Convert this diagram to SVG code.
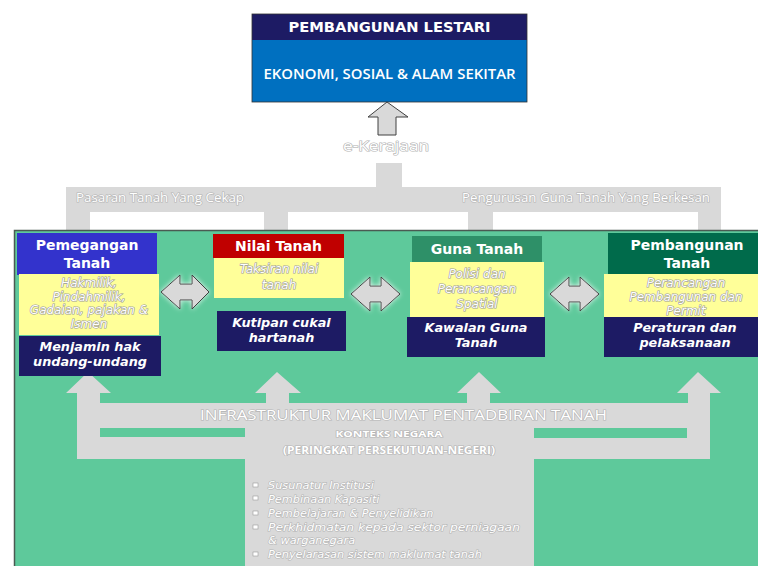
<svg xmlns="http://www.w3.org/2000/svg" width="758" height="566" viewBox="0 0 758 566">
<defs>
<style>
.t{font-family:"Open Sans","Liberation Sans",sans-serif;}
.hd{font-family:"DejaVu Sans","Liberation Sans",sans-serif;font-weight:bold;font-size:14px;fill:#fff;text-anchor:middle;}
.yl{font-family:"DejaVu Sans","Liberation Sans",sans-serif;font-style:italic;font-size:12px;fill:#fff;stroke:#9a9a9a;stroke-width:1.2px;paint-order:stroke;text-anchor:middle;}
.dk{font-family:"DejaVu Sans","Liberation Sans",sans-serif;font-style:italic;font-weight:bold;font-size:12.8px;fill:#fff;text-anchor:middle;}
.ol{fill:#fff;stroke:#b4b4b4;stroke-width:1.2px;paint-order:stroke;}
.gr{fill:#d9d9d9;}
.dbl{fill:#d9d9d9;stroke:#404040;stroke-width:1;filter:url(#glow);}
.bl{font-family:"DejaVu Sans","Liberation Sans",sans-serif;font-style:italic;font-size:11.3px;fill:#fff;stroke:#b4b4b4;stroke-width:1.2px;paint-order:stroke;}
</style>
<filter id="glow" x="-30%" y="-40%" width="160%" height="180%">
<feGaussianBlur in="SourceAlpha" stdDeviation="2.5" result="b"/>
<feFlood flood-color="#ffffff" flood-opacity="0.8"/>
<feComposite in2="b" operator="in" result="g"/>
<feMerge><feMergeNode in="g"/><feMergeNode in="SourceGraphic"/></feMerge>
</filter>
</defs>
<rect width="758" height="566" fill="#fff"/>

<!-- top node -->
<g id="pembangunan-lestari">
<rect x="252" y="14" width="275" height="26" fill="#1d1b64"/>
<rect x="252" y="40" width="275" height="62" fill="#0070c0"/>
<rect x="252" y="14" width="275" height="88" fill="none" stroke="#333" stroke-width="0.8"/>
<text x="389.5" y="31.5" font-family="DejaVu Sans, Liberation Sans, sans-serif" font-size="14" font-weight="bold" fill="#fff" text-anchor="middle" textLength="202" lengthAdjust="spacingAndGlyphs">PEMBANGUNAN LESTARI</text>
<text class="t" x="389.5" y="79" font-size="14.5" font-weight="600" fill="#fff" text-anchor="middle" textLength="252" lengthAdjust="spacingAndGlyphs">EKONOMI, SOSIAL &amp; ALAM SEKITAR</text>
</g>

<!-- connectors -->
<g id="connectors">
<path d="M387,102 L408,117 L396,117 L396,135 L378,135 L378,117 L368,117 Z" fill="#d9d9d9" stroke="#404040" stroke-width="1"/>
<text class="t ol" x="386" y="151" font-size="14" text-anchor="middle" textLength="86" lengthAdjust="spacingAndGlyphs">e-Kerajaan</text>
<rect class="gr" x="376" y="163" width="26" height="25"/>
<rect class="gr" x="66" y="187" width="655" height="25"/>
<rect class="gr" x="66" y="187" width="24" height="43"/>
<rect class="gr" x="264" y="187" width="24" height="43"/>
<rect class="gr" x="468" y="187" width="25" height="45"/>
<rect class="gr" x="698" y="187" width="23" height="45"/>
<text class="t ol" x="76" y="202" font-size="12" textLength="168" lengthAdjust="spacingAndGlyphs">Pasaran Tanah Yang  Cekap</text>
<text class="t ol" x="462" y="202" font-size="12" textLength="248" lengthAdjust="spacingAndGlyphs">Pengurusan Guna Tanah Yang Berkesan</text>
</g>

<!-- green panel -->
<g id="panel">
<rect x="14" y="230" width="750" height="340" fill="#5ec99b"/>
<path d="M14.5,566 L14.5,230.5 L758,230.5" fill="none" stroke="#4a5a52" stroke-width="1.5"/>
</g>

<!-- infrastructure -->
<g id="infrastruktur">
<path class="gr" d="M77,393 L66,393 L88,372 L111,393 L100,393 L100,403 L266,403 L266,393 L255,393 L277,372 L301,393 L289,393 L289,403 L467,403 L467,393 L457,393 L479,372 L501,393 L490,393 L490,403 L688,403 L688,393 L677,393 L698,372 L721,393 L710,393 L710,459 L534,459 L534,566 L245,566 L245,459 L77,459 Z"/>
<rect x="100" y="428" width="145" height="9" fill="#5ec99b"/>
<rect x="534" y="428" width="153" height="10" fill="#5ec99b"/>
<text class="t ol" x="200" y="420" font-size="14" textLength="407" lengthAdjust="spacingAndGlyphs">INFRASTRUKTUR MAKLUMAT PENTADBIRAN TANAH</text>
<text class="t ol" x="389" y="437" font-size="9" font-weight="bold" text-anchor="middle" textLength="107" lengthAdjust="spacingAndGlyphs">KONTEKS NEGARA</text>
<text class="t ol" x="389" y="454" font-size="10" font-weight="bold" text-anchor="middle" textLength="212" lengthAdjust="spacingAndGlyphs">(PERINGKAT PERSEKUTUAN-NEGERI)</text>
<g fill="#fff" stroke="#9a9a9a" stroke-width="0.6">
<rect x="253" y="483" width="5" height="4"/>
<rect x="253" y="496" width="5" height="4"/>
<rect x="253" y="511" width="5" height="4"/>
<rect x="253" y="525" width="5" height="4"/>
<rect x="253" y="552" width="5" height="4"/>
</g>
<text class="bl" x="268" y="489">Susunatur Institusi</text>
<text class="bl" x="268" y="502.5">Pembinaan Kapasiti</text>
<text class="bl" x="268" y="516.5">Pembelajaran &amp; Penyelidikan</text>
<text class="bl" x="268" y="530.5" textLength="252" lengthAdjust="spacingAndGlyphs">Perkhidmatan kepada sektor perniagaan</text>
<text class="bl" x="268" y="544">&amp; warganegara</text>
<text class="bl" x="268" y="558">Penyelarasan sistem maklumat tanah</text>
</g>

<!-- node 1 -->
<g id="pemegangan-tanah">
<rect x="17" y="233" width="140" height="42" fill="#3333cc"/>
<text class="hd" x="87" y="250">Pemegangan</text>
<text class="hd" x="87" y="268">Tanah</text>
<rect x="19" y="274" width="140" height="61" fill="#ffff99"/>
<g style="font-size:11.6px">
<text class="yl" x="89" y="287">Hakmilik,</text>
<text class="yl" x="89" y="300.5">Pindahmilik,</text>
<text class="yl" x="89" y="314">Gadaian, pajakan &amp;</text>
<text class="yl" x="89" y="327.5">Ismen</text>
</g>
<rect x="19" y="336" width="142" height="40" fill="#1d1b64"/>
<text class="dk" x="90" y="351">Menjamin hak</text>
<text class="dk" x="90" y="366">undang-undang</text>
</g>

<!-- node 2 -->
<g id="nilai-tanah">
<rect x="213" y="234" width="131" height="24" fill="#c00000"/>
<text class="hd" x="278.5" y="251">Nilai Tanah</text>
<rect x="214" y="258" width="130" height="40" fill="#ffff99"/>
<g style="font-size:13.5px">
<text class="yl" x="279" y="273">Taksiran nilai</text>
<text class="yl" x="279" y="289">tanah</text>
</g>
<rect x="217" y="311" width="129" height="40" fill="#1d1b64"/>
<text class="dk" x="281.5" y="327">Kutipan cukai</text>
<text class="dk" x="281.5" y="342">hartanah</text>
</g>

<!-- node 3 -->
<g id="guna-tanah">
<rect x="412" y="236" width="130" height="26" fill="#2e9068"/>
<text class="hd" x="477" y="254">Guna Tanah</text>
<rect x="410" y="262" width="134" height="55" fill="#ffff99"/>
<g style="font-size:12.8px">
<text class="yl" x="477" y="278">Polisi dan</text>
<text class="yl" x="477" y="293">Perancangan</text>
<text class="yl" x="477" y="308">Spatial</text>
</g>
<rect x="407" y="317" width="138" height="40" fill="#1d1b64"/>
<text class="dk" x="476" y="332">Kawalan Guna</text>
<text class="dk" x="476" y="347">Tanah</text>
</g>

<!-- node 4 -->
<g id="pembangunan-tanah">
<rect x="608" y="233" width="160" height="41" fill="#006b4b"/>
<text class="hd" x="687" y="250">Pembangunan</text>
<text class="hd" x="687" y="268">Tanah</text>
<rect x="604" y="274" width="164" height="43" fill="#ffff99"/>
<text class="yl" x="686" y="287">Perancangan</text>
<text class="yl" x="686" y="301">Pembangunan dan</text>
<text class="yl" x="686" y="315">Permit</text>
<rect x="604" y="317" width="164" height="40" fill="#1d1b64"/>
<text class="dk" x="685" y="332">Peraturan dan</text>
<text class="dk" x="685" y="347">pelaksanaan</text>
</g>

<!-- double arrows -->
<g id="double-arrows">
<path class="dbl" d="M161,292 L180,275 L180,284 L192,284 L192,275 L209,292 L192,309 L192,300 L180,300 L180,309 Z"/>
<path class="dbl" d="M351,294 L370,277 L370,286 L381,286 L381,277 L400,294 L381,311 L381,302 L370,302 L370,311 Z"/>
<path class="dbl" d="M550,294 L569,277 L569,286 L580,286 L580,277 L599,294 L580,311 L580,302 L569,302 L569,311 Z"/>
</g>
</svg>
